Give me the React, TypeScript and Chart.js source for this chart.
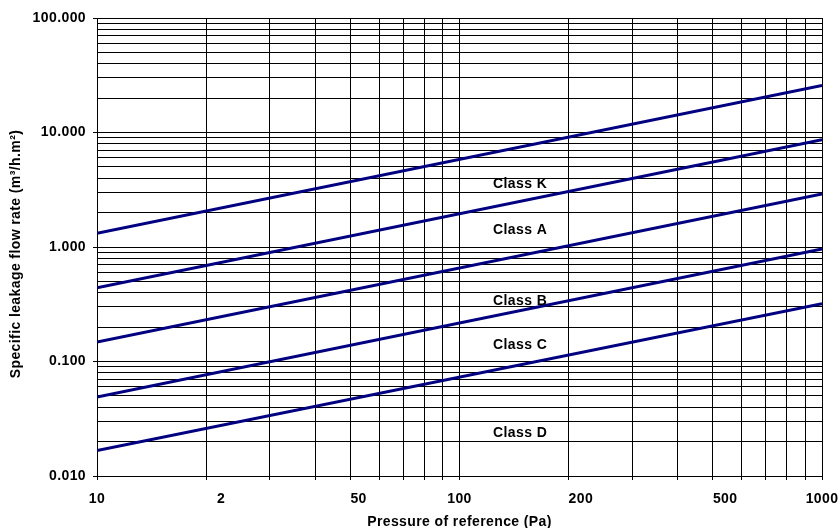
import React, { useEffect, useRef } from 'react';
import { Chart, registerables } from 'chart.js';

Chart.register(...registerables);

// ---- data ----
const pressures = [10, 1000];
const classK = [1.32, 25.8];
const classA = [0.44, 8.65];
const classB = [0.148, 2.9];
const classC = [0.049, 0.96];
const classD = [0.0167, 0.32];
const seriesNames = ['Class K', 'Class A', 'Class B', 'Class C', 'Class D'];

// class label anchors (data coordinates)
const classLabelX = 147;
const classLabelY = [3.64, 1.44, 0.346, 0.1426, 0.0243];

// axes
const xGridValues = [10, 20, 30, 40, 50, 60, 70, 80, 90, 100, 200, 300, 400, 500, 600, 700, 800, 900, 1000];
const xTickValues = [10, 20, 50, 100, 200, 500, 1000];
const xTickLabels = ['10', '2', '50', '100', '200', '500', '1000'];
const yGridValues = [
  0.01, 0.02, 0.03, 0.04, 0.05, 0.06, 0.07, 0.08, 0.09,
  0.1, 0.2, 0.3, 0.4, 0.5, 0.6, 0.7, 0.8, 0.9,
  1, 2, 3, 4, 5, 6, 7, 8, 9,
  10, 20, 30, 40, 50, 60, 70, 80, 90,
  100,
];
const yTickValues = [0.01, 0.1, 1, 10, 100];
const yTickLabels = ['0.010', '0.100', '1.000', '10.000', '100.000'];
const xTitle = 'Pressure of reference (Pa)';
const yTitle = 'Specific leakage flow rate (m³/h.m²)';

// ---- styles ----
const FONT_FAMILY = "'Liberation Sans', Arial, sans-serif";
const LINE_COLOR = '#000080';
const xTickAlign: CanvasTextAlign[] = ['center', 'left', 'left', 'center', 'left', 'left', 'center'];
const xTickShift = [0, 11, 0, 0, 0, 0, 0];

const near = (a: number, b: number) => Math.abs(a - b) <= Math.abs(b) * 1e-6;
const yLabelFor = (v: number) => {
  const i = yTickValues.findIndex((t) => near(v, t));
  return i >= 0 ? yTickLabels[i] : '';
};

const textPlugin = {
  id: 'textOverlay',
  beforeDraw(chart: any) {
    chart.ctx.letterSpacing = '0.4px';
  },
  afterDraw(chart: any) {
    const ctx = chart.ctx as CanvasRenderingContext2D;
    const xs = chart.scales.x;
    const ys = chart.scales.y;
    const area = chart.chartArea;
    ctx.save();
    (ctx as any).letterSpacing = '0.4px';
    ctx.fillStyle = '#000';
    ctx.font = `bold 14px ${FONT_FAMILY}`;
    ctx.textBaseline = 'alphabetic';

    // x tick labels
    xTickValues.forEach((v, i) => {
      ctx.textAlign = xTickAlign[i];
      ctx.fillText(xTickLabels[i], xs.getPixelForValue(v) + xTickShift[i], area.bottom + 26.5);
    });

    // x title
    ctx.textAlign = 'center';
    ctx.fillText(xTitle, (area.left + area.right) / 2, area.bottom + 49.5);

    // y title
    ctx.save();
    ctx.translate(19.5, (area.top + area.bottom) / 2 + 7);
    ctx.rotate(-Math.PI / 2);
    ctx.textAlign = 'center';
    ctx.fillText(yTitle, 0, 0);
    ctx.restore();

    // class labels
    ctx.textAlign = 'center';
    seriesNames.forEach((name, i) => {
      ctx.fillText(name, xs.getPixelForValue(classLabelX), ys.getPixelForValue(classLabelY[i]) + 5);
    });
    ctx.restore();
  },
};

export default function App() {
  const canvasRef = useRef<HTMLCanvasElement | null>(null);

  useEffect(() => {
    document.body.style.margin = '0';
    const canvas = canvasRef.current;
    if (!canvas) return;
    const seriesValues = [classK, classA, classB, classC, classD];
    const chart = new Chart(canvas, {
      type: 'line',
      data: {
        datasets: seriesValues.map((vals, i) => ({
          label: seriesNames[i],
          data: pressures.map((p, j) => ({ x: p, y: vals[j] })),
          borderColor: LINE_COLOR,
          backgroundColor: LINE_COLOR,
          borderWidth: 3,
          pointRadius: 0,
          tension: 0,
          fill: false,
        })),
      },
      options: {
        responsive: false,
        animation: false,
        devicePixelRatio: 1,
        layout: { padding: { top: 18, right: 16, left: 0, bottom: 0 } },
        plugins: {
          legend: { display: false },
          tooltip: { enabled: false },
          title: { display: false },
        },
        scales: {
          x: {
            type: 'logarithmic',
            min: 10,
            max: 1000,
            afterBuildTicks: (scale: any) => {
              scale.ticks = xGridValues.map((v) => ({ value: v }));
            },
            afterFit: (scale: any) => {
              scale.height = 52;
            },
            ticks: { display: false, autoSkip: false },
            grid: {
              color: '#000',
              lineWidth: 1,
              drawTicks: true,
              tickLength: 4,
              tickColor: '#000',
            },
            border: { display: true, color: '#000', width: 1 },
          },
          y: {
            type: 'logarithmic',
            min: 0.01,
            max: 100,
            afterBuildTicks: (scale: any) => {
              scale.ticks = yGridValues.map((v) => ({ value: v }));
            },
            afterFit: (scale: any) => {
              scale.width = 97;
            },
            ticks: {
              autoSkip: false,
              padding: 7,
              color: '#000',
              font: { family: FONT_FAMILY, size: 14, weight: 'bold' },
              callback: (value: any) => yLabelFor(Number(value)),
            },
            grid: {
              color: '#000',
              lineWidth: 1,
              drawTicks: true,
              tickLength: 4,
              tickColor: (ctx: any) =>
                ctx.tick && yTickValues.some((t) => near(ctx.tick.value, t)) ? '#000' : 'rgba(0,0,0,0)',
            },
            border: { display: true, color: '#000', width: 1 },
          },
        },
      } as any,
      plugins: [textPlugin],
    });
    return () => chart.destroy();
  }, []);

  return (
    <div style={{ width: 838, height: 528 }}>
      <canvas ref={canvasRef} width={838} height={528} style={{ display: 'block' }} />
    </div>
  );
}
